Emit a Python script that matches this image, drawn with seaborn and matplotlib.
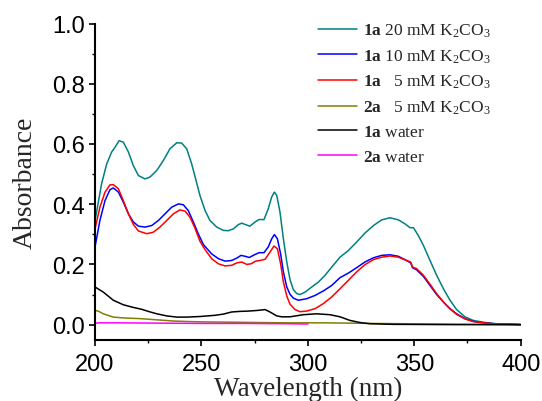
import matplotlib
matplotlib.use("Agg")
import matplotlib.pyplot as plt
import seaborn as sns
import pandas as pd
from matplotlib.ticker import MultipleLocator, FormatStrFormatter

# ---------------- data ----------------
wl_1a20 = [200, 203.1, 205.5, 207.8, 209.4, 211.3, 213.3, 215.7, 218, 220.4, 223.5, 225.8, 229, 232.1,
           235.2, 238.4, 240.7, 243.1, 245.4, 247.5, 249.3, 251.7, 254, 257.2, 260.3, 262.6, 265, 267.3,
           268.9, 270.8, 272.8, 275.2, 277.1, 279.4, 281.4, 283, 284.3, 285.4, 286.9, 288.5, 290.1,
           291.6, 293.2, 294.8, 296.3, 298.7, 301.8, 304.9, 308.1, 311.2, 315.1, 319, 322.9, 326.8,
           330.8, 334.7, 338.6, 342.5, 345.6, 348, 349.6, 351.9, 354.3, 357.4, 360.5, 363.7, 366.8,
           369.9, 373.8, 377.7, 382.4, 388.7, 398.1, 400]
ab_1a20 = [0.345, 0.468, 0.534, 0.573, 0.589, 0.611, 0.606, 0.573, 0.528, 0.495, 0.484, 0.490, 0.512, 0.545,
           0.584, 0.604, 0.603, 0.584, 0.534, 0.478, 0.429, 0.379, 0.346, 0.324, 0.313, 0.312, 0.318, 0.332,
           0.337, 0.332, 0.327, 0.341, 0.349, 0.349, 0.385, 0.424, 0.440, 0.429, 0.374, 0.285, 0.208,
           0.150, 0.116, 0.103, 0.100, 0.108, 0.125, 0.141, 0.164, 0.191, 0.224, 0.246, 0.274, 0.304,
           0.329, 0.348, 0.355, 0.348, 0.335, 0.322, 0.322, 0.296, 0.263, 0.213, 0.164, 0.119, 0.081,
           0.050, 0.026, 0.014, 0.008, 0.003, 0.001, 0.0]

wl_1a10 = [200, 202.3, 204.7, 207, 208.6, 211, 213.3, 215.7, 218, 220.4, 223.5, 226.6, 229.8, 232.9,
           236, 239.2, 241.5, 243.8, 246.2, 248.5, 250.9, 254.8, 258, 261.1, 264.2, 266.6, 268.6, 270.5,
           272.5, 274.9, 277.1, 279.4, 281.4, 283, 284.3, 285.7, 287.2, 288.5, 290.1, 291.6, 293.2,
           295.5, 297.9, 299.4, 303.4, 307.3, 311.2, 315.1, 319, 322.9, 326.8, 330.8, 334.7, 338.6,
           342.5, 346.4, 348.3, 349.2, 351.1, 354.3, 357.4, 360.5, 363.7, 366.8, 369.9, 373.8, 377.7,
           382.4, 388.7, 395, 400]
ab_1a10 = [0.258, 0.346, 0.412, 0.448, 0.454, 0.440, 0.407, 0.368, 0.341, 0.327, 0.324, 0.329, 0.346, 0.368,
           0.390, 0.401, 0.398, 0.379, 0.341, 0.302, 0.266, 0.235, 0.219, 0.211, 0.213, 0.221, 0.230, 0.227,
           0.223, 0.232, 0.239, 0.239, 0.258, 0.285, 0.299, 0.285, 0.235, 0.175, 0.125, 0.101, 0.088,
           0.081, 0.084, 0.086, 0.097, 0.112, 0.130, 0.156, 0.171, 0.189, 0.208, 0.222, 0.230, 0.232,
           0.227, 0.213, 0.205, 0.189, 0.182, 0.160, 0.130, 0.100, 0.075, 0.053, 0.036, 0.020, 0.011,
           0.006, 0.002, 0.001, 0.0]

wl_1a5 = [200, 202.3, 204.7, 207, 208.6, 211, 213.3, 215.7, 218, 220.4, 224.3, 227.4, 230.5, 233.7,
          236.8, 239.9, 242.3, 244.6, 247, 249.3, 251.7, 254.8, 258, 261.1, 264.2, 266.6, 268.9, 271.3,
          273.3, 275.5, 277.5, 279.9, 282.2, 284.1, 285.7, 287.2, 288.5, 290.1, 291.6, 294, 296.3,
          299.4, 303.4, 307.3, 311.2, 315.1, 319, 322.9, 326.8, 330.8, 334.7, 338.6, 342.5, 346.4,
          348.3, 349.2, 351.1, 354.3, 357.4, 360.5, 363.7, 366.8, 369.9, 373.8, 377.7, 382.4, 388.7,
          395, 400]
ab_1a5 = [0.318, 0.390, 0.440, 0.464, 0.465, 0.451, 0.412, 0.368, 0.333, 0.311, 0.302, 0.307, 0.324, 0.346,
          0.368, 0.381, 0.377, 0.357, 0.320, 0.277, 0.249, 0.219, 0.202, 0.195, 0.197, 0.205, 0.208, 0.200,
          0.202, 0.211, 0.213, 0.217, 0.241, 0.261, 0.252, 0.202, 0.142, 0.095, 0.068, 0.050, 0.043,
          0.045, 0.053, 0.070, 0.092, 0.119, 0.147, 0.175, 0.199, 0.216, 0.224, 0.228, 0.224, 0.213,
          0.208, 0.191, 0.186, 0.164, 0.134, 0.103, 0.075, 0.052, 0.034, 0.019, 0.010, 0.006, 0.002,
          0.001, 0.0]

wl_2a5 = [200, 201.5, 203.9, 208.6, 214, 221, 229, 236.8, 245, 252.5, 265, 276, 290, 307.3, 330, 360, 400]
ab_2a5 = [0.047, 0.045, 0.036, 0.025, 0.022, 0.020, 0.016, 0.012, 0.010, 0.009, 0.008, 0.007, 0.006,
          0.006, 0.004, 0.002, 0.0]

wl_1aw = [200, 203.9, 208.6, 213.3, 217.5, 221.9, 225.5, 229, 233.7, 238.4, 243, 249.3, 256.4, 260.3,
          264.2, 268, 272, 276, 279.9, 282.2, 285.4, 287.7, 291.6, 297.9, 304.1, 310.4, 315.1, 319.8,
          324.5, 329.2, 340, 370, 400]
ab_1aw = [0.125, 0.108, 0.081, 0.066, 0.058, 0.051, 0.043, 0.036, 0.029, 0.025, 0.025, 0.027, 0.031, 0.035,
          0.042, 0.044, 0.045, 0.047, 0.050, 0.042, 0.029, 0.026, 0.026, 0.033, 0.036, 0.033, 0.026, 0.014,
          0.007, 0.003, 0.001, 0.0, 0.0]

wl_2aw = [200, 201.5, 210, 230, 250, 270, 290, 300]
ab_2aw = [0.004, 0.006, 0.006, 0.005, 0.004, 0.004, 0.003, 0.002]

labels = [r"$\mathbf{1a}$ 20 mM K$_2$CO$_3$",
          r"$\mathbf{1a}$ 10 mM K$_2$CO$_3$",
          r"$\mathbf{1a}$   5 mM K$_2$CO$_3$",
          r"$\mathbf{2a}$   5 mM K$_2$CO$_3$",
          r"$\mathbf{1a}$ water",
          r"$\mathbf{2a}$ water"]
colors = ["#008080", "#0000FF", "#FF0000", "#808000", "#000000", "#FF00FF"]

series = [(wl_1a20, ab_1a20), (wl_1a10, ab_1a10), (wl_1a5, ab_1a5),
          (wl_2a5, ab_2a5), (wl_1aw, ab_1aw), (wl_2aw, ab_2aw)]

# ---------------- plotting ----------------
sns.set_theme(style="white")
plt.rcParams["font.family"] = ["Liberation Sans", "DejaVu Sans"]
plt.rcParams["mathtext.fontset"] = "custom"
plt.rcParams["mathtext.rm"] = "Liberation Serif"
plt.rcParams["mathtext.bf"] = "Liberation Serif:bold"
plt.rcParams["mathtext.it"] = "Liberation Serif:italic"

fig = plt.figure(figsize=(5.42, 4.02), dpi=100)
ax = fig.add_axes([0.1753, 0.1525, 0.7854, 0.7865])

frames = []
for (wl, ab), lab in zip(series, labels):
    frames.append(pd.DataFrame({"wl": wl, "ab": ab, "series": lab}))
df = pd.concat(frames, ignore_index=True)

sns.lineplot(data=df, x="wl", y="ab", hue="series", hue_order=labels,
             palette=dict(zip(labels, colors)), estimator=None, sort=False,
             linewidth=1.1, ax=ax, legend=True)

ax.set_xlim(200, 400)
ax.set_ylim(-0.05, 1.0)
ax.xaxis.set_major_locator(MultipleLocator(50))
ax.xaxis.set_minor_locator(MultipleLocator(25))
ax.yaxis.set_major_locator(MultipleLocator(0.2))
ax.yaxis.set_minor_locator(MultipleLocator(0.1))
ax.yaxis.set_major_formatter(FormatStrFormatter("%.1f"))

for s in ["top", "right"]:
    ax.spines[s].set_visible(False)
for s in ["left", "bottom"]:
    ax.spines[s].set_color("black")
    ax.spines[s].set_linewidth(1.5)

ax.tick_params(which="major", direction="out", length=4.5, width=1.2, colors="black",
               labelsize=17, left=True, bottom=True, pad=3)
ax.tick_params(axis="x", which="major", pad=5)
ax.tick_params(which="minor", direction="out", length=2.5, width=1.0, colors="black",
               left=True, bottom=True)

ax.set_xlabel("Wavelength (nm)", fontfamily="Liberation Serif", fontsize=19.5, labelpad=0.5)
ax.set_ylabel("Absorbance", fontfamily="Liberation Serif", fontsize=20, labelpad=10)

handles, labs = ax.get_legend_handles_labels()
leg = ax.legend(handles, labs, loc="upper left", bbox_to_anchor=(0.5867, 0.943),
                bbox_transform=fig.transFigure, frameon=False, borderpad=0,
                borderaxespad=0, handlelength=2.25, handletextpad=0.35,
                labelspacing=0.47, prop={"family": "Liberation Serif", "size": 12.5})
for line in leg.get_lines():
    line.set_linewidth(1.1)

fig.savefig("out.png", dpi=100)
